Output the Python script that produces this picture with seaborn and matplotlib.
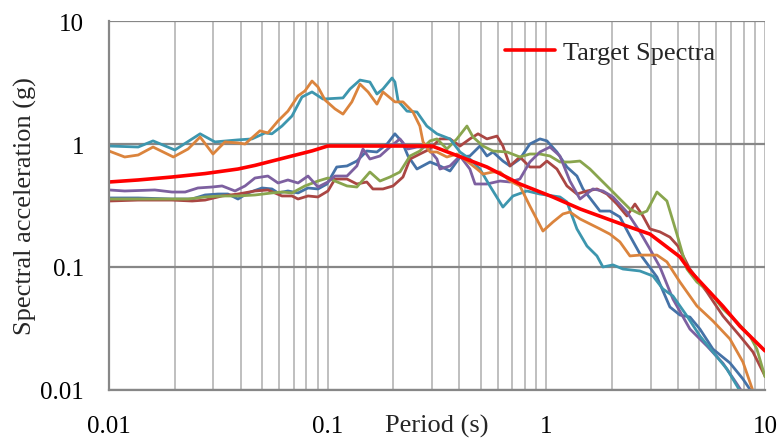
import numpy as np
import pandas as pd
import matplotlib
matplotlib.use("Agg")
import matplotlib.pyplot as plt
import matplotlib.ticker as mticker
import seaborn as sns

# ---------------- data ----------------
teal_T = [0.01, 0.0136, 0.0159, 0.0200, 0.0261, 0.0305, 0.0389, 0.0451, 0.0517, 0.0556, 0.0618, 0.0687,
          0.0763, 0.0848, 0.0952, 0.1175, 0.1265, 0.1405, 0.156, 0.168, 0.179, 0.197, 0.203, 0.210, 0.2305,
          0.256, 0.284, 0.316, 0.3625, 0.403, 0.447, 0.497, 0.552, 0.633, 0.704, 0.815, 0.935, 1.154, 1.242,
          1.380, 1.534, 1.704, 1.815, 2.017, 2.240, 2.679, 3.072, 3.413, 3.793, 4.394, 5.039, 5.779, 6.697,
          7.678, 8.0]
teal_Sa = [0.963, 0.945, 1.06, 0.894, 1.21, 1.04, 1.08, 1.10, 1.23, 1.21, 1.40, 1.69,
           2.41, 2.65, 2.32, 2.37, 2.80, 3.31, 3.19, 2.55, 2.80, 3.44, 3.19, 2.24, 1.85,
           1.82, 1.40, 1.21, 1.10, 0.861, 0.755, 0.626, 0.456, 0.307, 0.378, 0.415, 0.392, 0.371, 0.338,
           0.204, 0.148, 0.123, 0.100, 0.104, 0.0963, 0.0928, 0.0845, 0.0663, 0.0581, 0.0400, 0.0275, 0.0204, 0.0148,
           0.00985, 0.009]

orange_T = [0.01, 0.0118, 0.0136, 0.0159, 0.0197, 0.0230, 0.0261, 0.0299, 0.0339, 0.0389, 0.0419, 0.0490,
            0.0533, 0.0593, 0.0658, 0.0732, 0.0787, 0.0848, 0.0903, 0.0972, 0.108, 0.1175, 0.129, 0.1405,
            0.153, 0.168, 0.179, 0.203, 0.221, 0.2455, 0.264, 0.273, 0.294, 0.316, 0.351, 0.390, 0.4335,
            0.482, 0.513, 0.570, 0.614, 0.682, 0.757, 0.841, 0.965, 1.072, 1.191, 1.282, 1.425, 1.583,
            1.759, 1.954, 2.170, 2.412, 2.679, 3.205, 3.560, 4.083, 4.882, 5.779, 6.912, 7.925, 8.806, 9.0]
orange_Sa = [0.877, 0.784, 0.814, 0.945, 0.784, 0.911, 1.14, 0.829, 1.04, 1.02, 1.00, 1.28,
             1.23, 1.54, 1.85, 2.46, 2.70, 3.25, 2.91, 2.28, 1.93, 1.75, 2.20, 3.07,
             2.65, 2.11, 2.65, 2.20, 2.20, 1.82, 1.40, 1.04, 0.861, 0.861, 0.784, 0.829, 0.727,
             0.626, 0.570, 0.592, 0.592, 0.500, 0.456, 0.313, 0.196, 0.232, 0.270, 0.280, 0.246, 0.224,
             0.204, 0.185, 0.160, 0.123, 0.125, 0.125, 0.110, 0.0755, 0.0482, 0.0364, 0.0260, 0.0169, 0.00985, 0.009]

blue_T = [0.01, 0.0136, 0.0194, 0.0240, 0.0275, 0.0315, 0.0350, 0.0389, 0.0432, 0.0501, 0.0556, 0.0593,
          0.0658, 0.0732, 0.0813, 0.0903, 0.0993, 0.110, 0.1226, 0.136, 0.151, 0.168, 0.187, 0.203, 0.219,
          0.233, 0.256, 0.294, 0.326, 0.3625, 0.403, 0.447, 0.497, 0.535, 0.570, 0.633, 0.682, 0.757,
          0.841, 0.935, 1.006, 1.118, 1.242, 1.380, 1.471, 1.634, 1.759, 1.954, 2.170, 2.412, 2.679,
          3.205, 3.674, 4.083, 4.535, 5.039, 5.779, 6.912, 7.925, 8.62, 8.8]
blue_Sa = [0.364, 0.364, 0.357, 0.357, 0.385, 0.392, 0.392, 0.357, 0.400, 0.439, 0.431, 0.400,
           0.415, 0.400, 0.439, 0.431, 0.473, 0.650, 0.663, 0.727, 0.877, 0.861, 1.00, 1.21, 1.04,
           0.799, 0.626, 0.714, 0.663, 0.603, 0.784, 0.799, 0.963, 0.799, 0.861, 0.727, 0.663, 0.755,
           1.00, 1.10, 1.06, 0.861, 0.650, 0.549, 0.431, 0.338, 0.285, 0.285, 0.255, 0.179, 0.128,
           0.0829, 0.0473, 0.0407, 0.0392, 0.0313, 0.0215, 0.0166, 0.0123, 0.00985, 0.009]

purple_T = [0.01, 0.0118, 0.0162, 0.0194, 0.0223, 0.0255, 0.0296, 0.0329, 0.0377, 0.0419, 0.0465, 0.0533,
            0.0593, 0.0658, 0.0732, 0.0813, 0.0903, 0.1003, 0.108, 0.1226, 0.136, 0.145, 0.156, 0.1735,
            0.1927, 0.214, 0.233, 0.256, 0.284, 0.316, 0.326, 0.3625, 0.403, 0.447, 0.472, 0.535, 0.614,
            0.682, 0.757, 0.841, 0.935, 1.039, 1.154, 1.282, 1.425, 1.634, 1.815, 2.017, 2.336, 2.679,
            2.977, 3.307, 3.793, 4.535, 5.425, 6.421, 7.44, 7.8, 8.0]
purple_Sa = [0.423, 0.415, 0.423, 0.407, 0.407, 0.439, 0.447, 0.456, 0.415, 0.456, 0.529, 0.549,
             0.482, 0.510, 0.482, 0.549, 0.447, 0.491, 0.549, 0.549, 0.663, 0.911, 0.755, 0.799,
             0.945, 1.10, 0.911, 0.945, 0.945, 0.755, 0.626, 0.663, 0.799, 0.626, 0.473, 0.473, 0.500,
             0.491, 0.519, 0.714, 0.861, 0.945, 0.799, 0.500, 0.357, 0.431, 0.415, 0.371, 0.280, 0.193,
             0.140, 0.100, 0.0549, 0.0313, 0.0228, 0.0165, 0.0112, 0.00985, 0.009]

green_T = [0.01, 0.0136, 0.0194, 0.0230, 0.0275, 0.0329, 0.0389, 0.0465, 0.0556, 0.0618, 0.0687, 0.0787,
           0.0903, 0.1003, 0.108, 0.1226, 0.136, 0.156, 0.1735, 0.1927, 0.214, 0.238, 0.264, 0.294, 0.316,
           0.351, 0.390, 0.4335, 0.462, 0.513, 0.570, 0.661, 0.757, 0.841, 0.935, 1.039, 1.154, 1.282,
           1.425, 1.583, 1.759, 1.954, 2.170, 2.412, 2.679, 2.884, 3.205, 3.560, 3.956, 4.394, 4.882,
           5.598, 6.421, 7.440, 8.531, 9.184, 10.0]
green_Sa = [0.357, 0.357, 0.357, 0.357, 0.371, 0.378, 0.378, 0.385, 0.400, 0.407, 0.400, 0.456,
            0.500, 0.529, 0.500, 0.456, 0.447, 0.592, 0.500, 0.539, 0.592, 0.799, 0.877, 1.06, 1.10,
            0.911, 1.10, 1.40, 1.14, 0.963, 0.877, 0.861, 0.784, 0.829, 0.829, 0.799, 0.714, 0.714,
            0.727, 0.626, 0.519, 0.431, 0.357, 0.296, 0.270, 0.285, 0.407, 0.344, 0.185, 0.0963, 0.0755,
            0.0626, 0.0456, 0.0357, 0.0275, 0.0215, 0.0128]

red_T = [0.01, 0.0136, 0.0194, 0.0240, 0.0275, 0.0329, 0.0389, 0.0465, 0.0533, 0.0618, 0.0687, 0.0732,
         0.0813, 0.0903, 0.1003, 0.108, 0.1226, 0.136, 0.151, 0.161, 0.179, 0.199, 0.221, 0.238, 0.264,
         0.294, 0.326, 0.3625, 0.403, 0.447, 0.487, 0.535, 0.595, 0.633, 0.682, 0.757, 0.841, 0.935,
         1.006, 1.118, 1.242, 1.380, 1.534, 1.704, 1.893, 2.103, 2.336, 2.542, 2.765, 2.977, 3.307,
         3.674, 3.998, 4.535, 5.425, 6.421, 7.678, 8.806, 10.0]
red_Sa = [0.344, 0.350, 0.350, 0.344, 0.350, 0.378, 0.392, 0.415, 0.423, 0.378, 0.378, 0.357,
          0.378, 0.371, 0.415, 0.519, 0.519, 0.473, 0.491, 0.431, 0.431, 0.456, 0.539, 0.755, 0.829,
          0.911, 1.10, 1.10, 0.963, 1.10, 1.21, 1.10, 1.16, 0.963, 0.663, 0.784, 0.650, 0.650,
          0.727, 0.626, 0.456, 0.392, 0.415, 0.431, 0.392, 0.325, 0.260, 0.325, 0.260, 0.204, 0.193,
          0.175, 0.148, 0.0963, 0.0626, 0.0400, 0.0275, 0.0204, 0.0130]

target_T = [0.01, 0.0136, 0.0194, 0.0275, 0.0389, 0.0465, 0.0658, 0.085, 0.1, 0.3, 0.535, 0.757, 1.07,
            1.43, 2.34, 2.98, 4.08, 4.54, 6.42, 7.68, 10.0]
target_Sa = [0.491, 0.51, 0.539, 0.575, 0.626, 0.67, 0.784, 0.88, 0.963, 0.963, 0.65, 0.473, 0.371,
             0.296, 0.215, 0.185, 0.121, 0.093, 0.048, 0.033, 0.0208]

x_ticks = [0.01, 0.1, 1, 10]
y_ticks = [0.01, 0.1, 1, 10]
x_ticklabels = ["0.01", "0.1", "1", "10"]
y_ticklabels = ["0.01", "0.1", "1", "10"]

series = [
    ("rec_blue", blue_T, blue_Sa, "#4572A7"),
    ("rec_red", red_T, red_Sa, "#AA4643"),
    ("rec_green", green_T, green_Sa, "#89A54E"),
    ("rec_purple", purple_T, purple_Sa, "#7D60A0"),
    ("rec_teal", teal_T, teal_Sa, "#3D96AE"),
    ("rec_orange", orange_T, orange_Sa, "#DB843D"),
]

rows = []
for name, T, S, _ in series:
    for t, s in zip(T, S):
        rows.append((name, t, s))
df = pd.DataFrame(rows, columns=["record", "Period", "Sa"])
palette = {name: col for name, _, _, col in series}
df_target = pd.DataFrame({"Period": target_T, "Sa": target_Sa})

# ---------------- figure ----------------
sns.set_theme(style="white")
plt.rcParams["font.family"] = ["Liberation Serif", "DejaVu Serif"]

fig = plt.figure(figsize=(7.79, 4.39), dpi=100)
ax = fig.add_axes([109 / 779, 1 - 391 / 439, (765 - 109) / 779, (391 - 22) / 439])

sns.lineplot(data=df, x="Period", y="Sa", hue="record", palette=palette, estimator=None,
             sort=False, linewidth=2.0, legend=False, ax=ax,
             solid_joinstyle="round", solid_capstyle="round")
sns.lineplot(data=df_target, x="Period", y="Sa", color="#FF0000", linewidth=2.6, sort=False,
             estimator=None, label="Target Spectra", ax=ax, solid_joinstyle="round")

ax.set_xscale("log")
ax.set_yscale("log")
ax.set_xlim(0.01, 10)
ax.set_ylim(0.01, 10)

ax.xaxis.set_major_locator(mticker.FixedLocator(x_ticks))
ax.xaxis.set_major_formatter(mticker.FixedFormatter(x_ticklabels))
ax.yaxis.set_major_locator(mticker.FixedLocator(y_ticks))
ax.yaxis.set_major_formatter(mticker.FixedFormatter(y_ticklabels))
ax.xaxis.set_minor_locator(mticker.LogLocator(base=10, subs=np.arange(2, 10), numticks=20))
ax.yaxis.set_minor_locator(mticker.NullLocator())

# grid: light vertical, darker horizontal
ax.grid(False)
ax.xaxis.grid(True, which="both", color="#BFBFBF", linewidth=1.4)
ax.yaxis.grid(True, which="major", color="#878787", linewidth=1.6)
ax.set_axisbelow(True)

for side in ["top", "right"]:
    ax.spines[side].set_visible(False)
for side in ["left", "bottom"]:
    ax.spines[side].set_color("#878787")
    ax.spines[side].set_linewidth(1.6)

ax.tick_params(axis="both", which="major", direction="out", length=6, width=1.4,
               color="#878787", labelsize=18, labelcolor="black")
ax.tick_params(axis="y", which="major", pad=12)
ax.tick_params(axis="x", which="major", pad=12)
ax.tick_params(axis="x", which="minor", length=0)

ax.set_xlabel("Period (s)", fontsize=19)
ax.xaxis.set_label_coords(0.5, -0.066)
ax.set_ylabel("Spectral acceleration (g)", fontsize=19)
ax.yaxis.set_label_coords(-0.11, 0.5)

leg = ax.legend(loc="center left", bbox_to_anchor=(0.604, 0.915), frameon=False, fontsize=19,
                handlelength=1.9, handletextpad=0.3, borderpad=0, borderaxespad=0)

fig.savefig("out.png", dpi=100)
